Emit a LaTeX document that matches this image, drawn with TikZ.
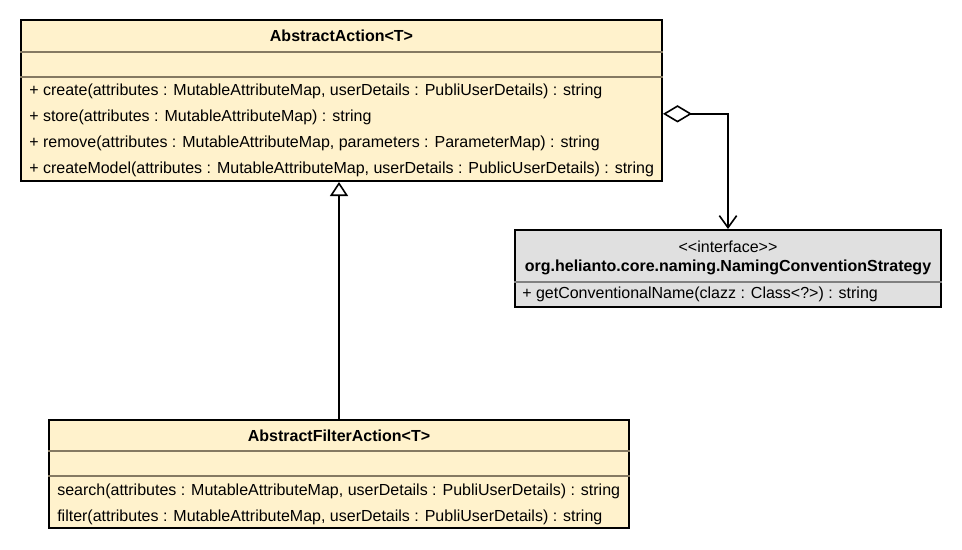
\documentclass[tikz,border=0pt]{standalone}
\usepackage{fontspec}
\setmainfont{Liberation Sans}
\usetikzlibrary{arrows.meta}
\definecolor{classfill}{HTML}{FFF2CC}
\definecolor{ifacefill}{HTML}{E0E0E0}
\definecolor{sepline}{HTML}{857A62}

\begin{document}
\begin{tikzpicture}[x=0.75pt,y=-0.75pt,
					classbox/.style={rectangle, draw=black, line width=1.5pt, fill=classfill, inner sep=0pt},
					ifacebox/.style={classbox, fill=ifacefill},
					titletext/.style={font=\fontsize{12}{14}\selectfont\bfseries, inner sep=0pt},
					plaintext/.style={font=\fontsize{12}{14}\selectfont, inner sep=0pt},
					membertext/.style={plaintext, anchor=west},
					sep/.style={draw=sepline, line width=1pt},
					link/.style={draw=black, line width=1.2pt},
					]
					\useasboundingbox (0,0) rectangle (962,549);
					%Nodes
					\node[classbox, minimum width=480.75pt, minimum height=120.75pt] (aa)  at (341.5,100.5) {};
					\node[ifacebox, minimum width=319.5pt, minimum height=57.75pt]  (ncs) at (728,268.5)   {};
					\node[classbox, minimum width=435pt, minimum height=81pt]       (af)  at (339,474)     {};

					%Compartments
					\draw[sep] (aa.west |- 0,52) -- (aa.east |- 0,52);
					\draw[sep] (aa.west |- 0,77) -- (aa.east |- 0,77);
					\draw[sep, draw=gray] (ncs.west |- 0,282) -- (ncs.east |- 0,282);
					\draw[sep] (af.west |- 0,451) -- (af.east |- 0,451);
					\draw[sep] (af.west |- 0,476) -- (af.east |- 0,476);

					%Texts
					\node[titletext]  (aa-title) at (341.5,36) {AbstractAction<T>};
					\node[membertext] (aa-m1)    at (29,91)    {+ create(attributes : MutableAttributeMap, userDetails : PubliUserDetails) : string};
					\node[membertext] (aa-m2)    at (29,117)   {+ store(attributes : MutableAttributeMap) : string};
					\node[membertext] (aa-m3)    at (29,143)   {+ remove(attributes : MutableAttributeMap, parameters : ParameterMap) : string};
					\node[membertext] (aa-m4)    at (29,169)   {+ createModel(attributes : MutableAttributeMap, userDetails : PublicUserDetails) : string};

					\node[plaintext]  (ncs-st)    at (728,246.5) {<{}<interface>{}>};
					\node[titletext]  (ncs-title) at (728,267)   {org.helianto.core.naming.NamingConventionStrategy};
					\node[membertext] (ncs-m1)    at (522,294.5) {+ getConventionalName(clazz : Class<?>) : string};

					\node[titletext]  (af-title) at (339,436)  {AbstractFilterAction<T>};
					\node[membertext] (af-m1)    at (57,491)   {search(attributes : MutableAttributeMap, userDetails : PubliUserDetails) : string};
					\node[membertext] (af-m2)    at (57,517)   {filter(attributes : MutableAttributeMap, userDetails : PubliUserDetails) : string};

					%Lines
					\draw[link, {Diamond[open,length=21.75pt,width=13pt]}-{Straight Barb[length=9pt,width=13pt]}] ([yshift=-10pt]aa.east) -| (ncs.north);
					\draw[link, -{Triangle[open,length=10.5pt,width=13.5pt]}] (af.north) -- (af.north |- aa.south);
				\end{tikzpicture}
\end{document}
